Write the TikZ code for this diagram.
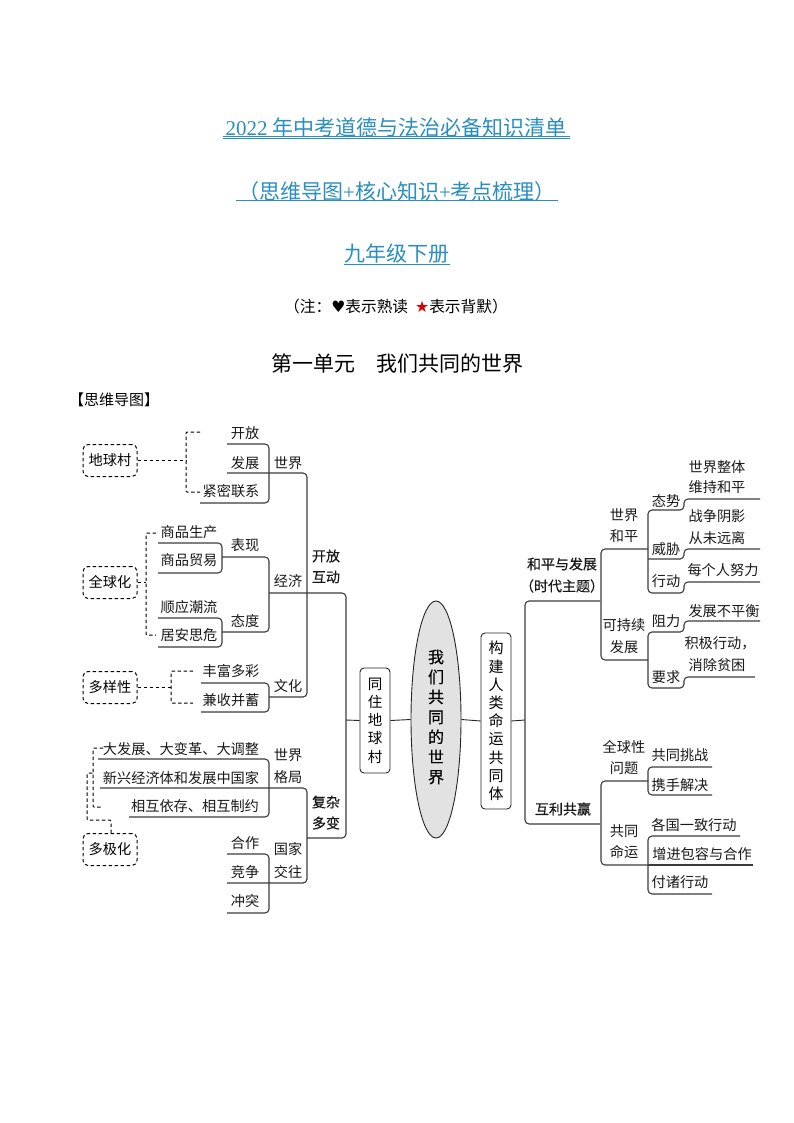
\documentclass[tikz,border=0pt]{standalone}
\usepackage{fontspec}
\setmainfont{Noto Sans CJK SC}
\newfontfamily\latf{Liberation Serif}
\newfontfamily\symf{DejaVu Sans}
\newfontfamily\medf[FakeBold=0.35]{Noto Sans CJK SC}
\usetikzlibrary{shapes.geometric}
\definecolor{titleblue}{HTML}{2A8FC0}
\definecolor{ln}{HTML}{3C3C3C}
\definecolor{ellfill}{HTML}{E2E2E2}
\newcommand{\fsz}[2]{\fontsize{#1}{#2}\selectfont}
\newcommand{\tx}[4]{\node[lab] (#1) at (#2,#3) {#4};}
\newcommand{\bx}[4]{\node[lab,font=\fsz{14}{14}\medf] (#1) at (#2,#3) {#4};}
\begin{document}
\begin{tikzpicture}[x=1pt,y=-1pt,
  lab/.style={inner sep=0pt,outer sep=0pt,font=\fsz{14.2}{14},text=black!90},
  title/.style={inner sep=0pt,font=\fsz{21}{21},text=titleblue},
  tul/.style={draw=titleblue,line width=0.7pt,double distance=0.8pt},
  br/.style={draw=ln,line width=1.1pt,rounded corners=4pt},
  st/.style={draw=black!85,line width=0.9pt},
  dsh/.style={draw=black,line width=1pt,dash pattern=on 3.5pt off 2.5pt,rounded corners=1pt},
  dbox/.style={draw=black,line width=1pt,dash pattern=on 3.5pt off 2.5pt,rounded corners=5pt,
    minimum width=54pt,minimum height=32pt,inner sep=0pt,font=\fsz{14.2}{14}},
  vbox/.style={draw=black!85,line width=0.9pt,rounded corners=4pt,minimum width=30pt,inner sep=0pt,
    align=center,font=\fsz{15}{18.2}},
]
\useasboundingbox (0,0) rectangle (794,1123);
\fill[white] (0,0) rectangle (794,1123);
% titles
\node[title] (t1) at (396,127) {{\latf 2022} 年中考道德与法治必备知识清单};
\draw[tul] (223,137.5) -- (570,137.5);
\node[title] (t2) at (397,192) {（思维导图{\latf +}核心知识{\latf +}考点梳理）};
\draw[tul] (236,201) -- (558,201);
\node[title] (t3) at (397,254) {九年级下册};
\draw[tul] (344,265) -- (450,265);
\node[inner sep=0pt,font=\fsz{15.7}{16}] (t4) at (396,307) {（注：{\symf ♥}表示熟读\ \ {\symf\color{red!85!black}★}表示背默）};
\node[inner sep=0pt,font=\fsz{21}{21}] (t5) at (397,364) {第一单元\hspace{1em}我们共同的世界};
\node[inner sep=0pt,font=\fsz{15}{15}] (t6) at (114,400) {【思维导图】};
% dashed boxes
\node[dbox] (dq) at (110,460.5) {地球村};
\node[dbox] (qq) at (110,582.5) {全球化};
\node[dbox] (dy) at (110,687.5) {多样性};
\node[dbox] (dj) at (110,849.5) {多极化};
\coordinate (d1a) at (200,432); \coordinate (d1b) at (200,492); \coordinate (d1m) at (186,460.5);
\draw[dsh] (d1a) -- (186,432) -- (186,492) -- (d1b);
\draw[dsh] (dq.east) -- (d1m);
\coordinate (d2a) at (156,533); \coordinate (d2b) at (156,635); \coordinate (d2m) at (146,582.5);
\draw[dsh] (d2a) -- (146,533) -- (146,635) -- (d2b);
\draw[dsh] (qq.east) -- (d2m);
\coordinate (d3a) at (193,671); \coordinate (d3b) at (193,703); \coordinate (d3m) at (171,687.5);
\draw[dsh] (d3a) -- (171,671) -- (171,703) -- (d3b);
\draw[dsh] (dy.east) -- (d3m);
\coordinate (d4a) at (103,748); \coordinate (d4b) at (103,807); \coordinate (d4c) at (93,773);
\draw[dsh] (d4a) -- (93,748) -- (93,807) -- (d4b);
\draw[dsh] (dj.north) ++(1,0) -- (111,820) -- (87,820) -- (87,773) -- (d4c);
% left brackets
\draw[br] (227,444) -- (269,444) -- (269,503) -- (200,503);
\draw[br] (227,473) -- (307,473) -- (307,697) -- (269,697);
\draw[br] (201,683) -- (269,683) -- (269,712) -- (201,712);
\draw[br] (158,543) -- (222,543) -- (222,573) -- (158,573);
\draw[br] (158,618) -- (222,618) -- (222,647) -- (158,647);
\draw[br] (222,557) -- (269,557) -- (269,632) -- (222,632);
\draw[br] (269,593) -- (346,593) -- (346,838) -- (307,838);
\draw[br] (98,759) -- (269,759) -- (269,817) -- (129,817);
\draw[br] (100,788) -- (307,788) -- (307,883) -- (227,883);
\draw[br] (227,854) -- (269,854) -- (269,913) -- (227,913);
% left labels
\tx{a1}{245}{433}{开放}
\tx{a2}{245}{463}{发展}
\tx{a3}{231}{491}{紧密联系}
\tx{a4}{288}{463}{世界}
\tx{b1}{189}{532}{商品生产}
\tx{b2}{189}{560}{商品贸易}
\tx{b3}{245}{545}{表现}
\tx{b4}{288}{581}{经济}
\tx{b5}{189}{607}{顺应潮流}
\tx{b6}{189}{635}{居安思危}
\tx{b7}{245}{621}{态度}
\bx{c1}{326}{556}{开放}
\bx{c2}{326}{577}{互动}
\tx{e1}{231}{671}{丰富多彩}
\tx{e2}{231}{700}{兼收并蓄}
\tx{e3}{288}{686}{文化}
\tx{f1}{181}{749}{大发展、大变革、大调整}
\tx{f2}{181}{778}{新兴经济体和发展中国家}
\tx{f3}{195}{806}{相互依存、相互制约}
\tx{f4}{288}{755}{世界}
\tx{f5}{288}{777}{格局}
\bx{f6}{326}{802}{复杂}
\bx{f7}{326}{823}{多变}
\tx{g1}{245}{843}{合作}
\tx{g2}{245}{872}{竞争}
\tx{g3}{245}{901}{冲突}
\tx{g4}{288}{849}{国家}
\tx{g5}{288}{872}{交往}
% centre
\coordinate (jL) at (346,720);
\coordinate (jR) at (525,720);
\node[ellipse,draw=black!85,fill=ellfill,line width=0.9pt,minimum width=50pt,minimum height=237pt,inner sep=0pt] (ell) at (436,719.5) {};
\node[inner sep=0pt,align=center,font=\fsz{16}{20}\medf] (elt) at (436,717) {我\\们\\共\\同\\的\\世\\界};
\node[vbox,minimum height=105pt,font=\fsz{14.5}{18.3}] (tz) at (375,720.5) {同\\住\\地\\球\\村};
\node[vbox,minimum height=176pt] (gj) at (496,721) {构\\建\\人\\类\\命\\运\\共\\同\\体};
\draw[st] (jL) -- (tz.west);
\draw[st] (tz.east) -- (ell.west);
\draw[st] (ell.east) -- (gj.west);
\draw[st] (gj.east) -- (jR);
% right brackets
\draw[br] (600,601) -- (525,601) -- (525,824) -- (600,824);
\draw[br] (648,549) -- (601,549) -- (601,660) -- (648,660);
\draw[br] (760,499) -- (684,499) -- (684,510) -- (648,510) -- (648,593) -- (684,593) -- (684,582) -- (760,582);
\draw[br] (648,559) -- (684,559) -- (684,549) -- (760,549);
\draw[br] (760,621) -- (684,621) -- (684,632) -- (648,632) -- (648,688) -- (684,688) -- (684,677) -- (755,677);
\draw[br] (648,781) -- (601,781) -- (601,865) -- (648,865);
\draw[br] (712,767) -- (648,767) -- (648,795) -- (712,795);
\draw[br] (740,836) -- (648,836) -- (648,894) -- (712,894);
\draw[br] (648,865) -- (753,865);
% right labels
\bx{r1}{562}{564}{和平与发展}
\bx{r2}{562}{586}{（时代主题）}
\tx{r3}{624}{515}{世界}
\tx{r4}{624}{536}{和平}
\tx{r5}{666}{501}{态势}
\tx{r6}{666}{549}{威胁}
\tx{r7}{666}{581}{行动}
\tx{r8}{717}{467}{世界整体}
\tx{r9}{717}{487}{维持和平}
\tx{r10}{717}{516}{战争阴影}
\tx{r11}{717}{538}{从未远离}
\tx{r12}{723}{570}{每个人努力}
\tx{r13}{724}{611}{发展不平衡}
\tx{r14}{720}{643}{积极行动，}
\tx{r15}{717}{665}{消除贫困}
\tx{r16}{666}{621}{阻力}
\tx{r17}{666}{677}{要求}
\tx{r18}{624}{625}{可持续}
\tx{r19}{624}{647}{发展}
\bx{s1}{563}{809}{互利共赢}
\tx{s2}{624}{747}{全球性}
\tx{s3}{624}{768}{问题}
\tx{s4}{680}{755}{共同挑战}
\tx{s5}{680}{785}{携手解决}
\tx{s6}{624}{831}{共同}
\tx{s7}{624}{852}{命运}
\tx{s8}{694}{825}{各国一致行动}
\tx{s9}{702}{854}{增进包容与合作}
\tx{s10}{680}{882}{付诸行动}
\end{tikzpicture}
\end{document}
